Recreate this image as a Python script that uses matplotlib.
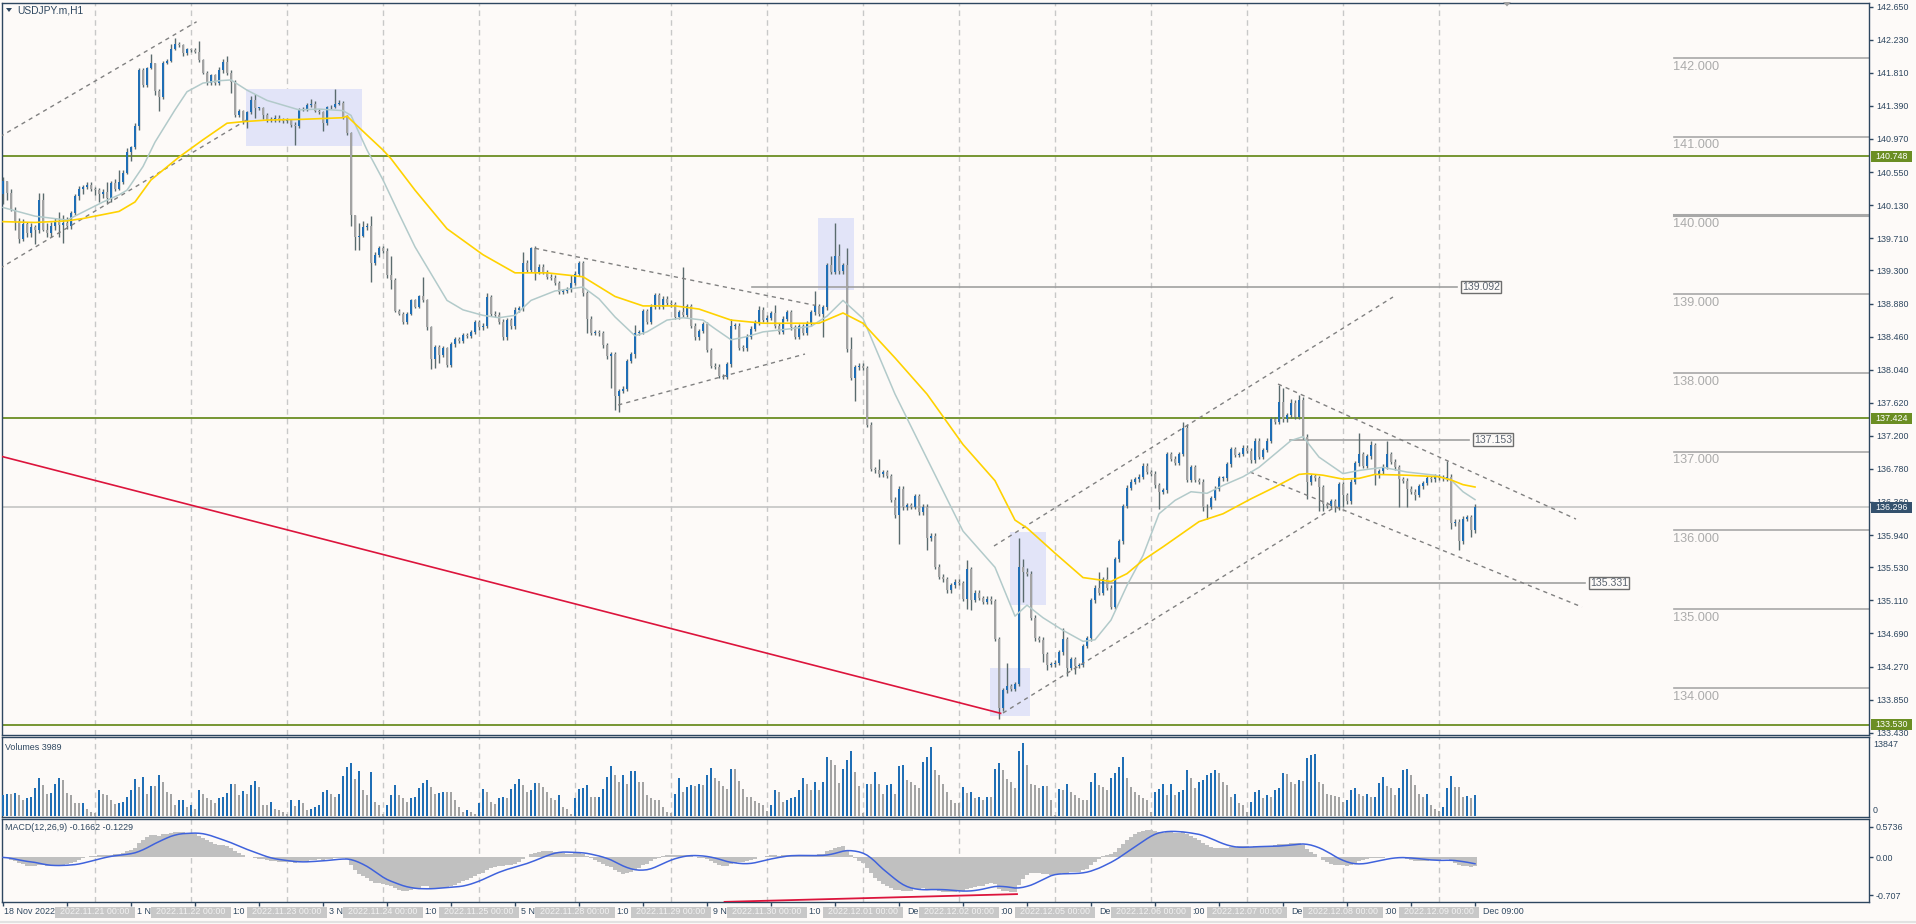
import numpy as np
import pandas as pd
import matplotlib
matplotlib.use("Agg")
import matplotlib.pyplot as plt
from matplotlib.patches import Rectangle, Polygon
from matplotlib.font_manager import FontProperties

plt.rcParams['font.family'] = ['Liberation Sans', 'DejaVu Sans']

# ---- USDJPY.m H1 bars, 18 Nov 2022 01:00 .. 9 Dec 2022 09:00 ----
days = ['2022-11-18', '2022-11-21', '2022-11-22', '2022-11-23', '2022-11-24',
        '2022-11-25', '2022-11-28', '2022-11-29', '2022-11-30', '2022-12-01',
        '2022-12-02', '2022-12-05', '2022-12-06', '2022-12-07', '2022-12-08',
        '2022-12-09']
first_hour, last_hour = 1, 9
first_open = 140.27

close = [
    # 18 Nov
    140.44, 140.29, 140.07, 139.93, 139.70, 139.89, 139.77, 139.85, 139.82, 140.20, 139.82, 139.77,
    139.86, 139.92, 139.88, 139.90, 139.86, 140.03, 140.24, 140.33, 140.36, 140.39, 140.34,
    # 21 Nov
    140.32, 140.27, 140.30, 140.22, 140.41, 140.34, 140.43, 140.54, 140.81, 140.87, 141.14, 141.85,
    141.65, 141.87, 141.94, 141.58, 141.50, 141.94, 141.96, 142.11, 142.18, 142.16, 142.06, 142.11,
    # 22 Nov
    142.10, 142.08, 141.97, 141.81, 141.68, 141.78, 141.68, 141.84, 141.95, 141.81, 141.70, 141.28,
    141.32, 141.19, 141.31, 141.46, 141.36, 141.36, 141.28, 141.21, 141.22, 141.24, 141.21, 141.20,
    # 23 Nov
    141.21, 141.15, 141.13, 141.34, 141.35, 141.40, 141.42, 141.33, 141.31, 141.17, 141.37, 141.38,
    141.42, 141.43, 141.25, 141.04, 140.00, 139.73, 139.74, 139.85, 139.87, 139.40, 139.50, 139.58,
    # 24 Nov
    139.55, 139.24, 139.18, 138.79, 138.75, 138.64, 138.75, 138.92, 138.84, 138.97, 138.92, 138.58,
    138.18, 138.33, 138.23, 138.31, 138.10, 138.36, 138.43, 138.41, 138.48, 138.47, 138.52, 138.64,
    # 25 Nov
    138.58, 138.60, 138.96, 138.75, 138.74, 138.65, 138.45, 138.67, 138.59, 138.80, 138.82, 139.40,
    139.31, 139.58, 139.28, 139.35, 139.28, 139.22, 139.21, 139.14, 139.03, 139.04, 139.06, 139.14,
    # 28 Nov
    139.26, 139.39, 139.01, 138.69, 138.51, 138.52, 138.50, 138.35, 138.21, 138.24, 137.70, 137.77,
    137.80, 138.15, 138.24, 138.51, 138.52, 138.78, 138.65, 138.84, 138.99, 138.84, 138.94, 138.89,
    # 29 Nov
    138.87, 138.71, 138.77, 138.74, 138.85, 138.60, 138.45, 138.53, 138.62, 138.29, 138.09, 138.08,
    137.96, 137.95, 138.11, 138.59, 138.60, 138.32, 138.31, 138.46, 138.56, 138.64, 138.80, 138.67,
    # 30 Nov
    138.70, 138.76, 138.60, 138.52, 138.69, 138.77, 138.58, 138.46, 138.59, 138.51, 138.63, 138.77,
    138.85, 138.75, 138.83, 139.37, 139.28, 139.49, 139.29, 139.37, 138.30, 137.94, 138.07, 138.09,
    # 1 Dec
    138.06, 137.34, 136.78, 136.76, 136.71, 136.74, 136.69, 136.39, 136.19, 136.53, 136.29, 136.32,
    136.30, 136.43, 136.23, 136.30, 135.90, 135.93, 135.54, 135.41, 135.38, 135.24, 135.30, 135.35,
    # 2 Dec
    135.33, 135.13, 135.51, 135.12, 135.21, 135.14, 135.09, 135.13, 135.10, 134.62, 133.74, 133.97,
    134.02, 133.99, 134.05, 135.53, 135.47, 135.45, 134.89, 134.63, 134.61, 134.43, 134.29, 134.30,
    # 5 Dec
    134.32, 134.45, 134.62, 134.25, 134.36, 134.28, 134.29, 134.53, 134.63, 135.11, 135.27, 135.21,
    135.38, 135.27, 135.03, 135.63, 135.86, 136.31, 136.54, 136.62, 136.65, 136.68, 136.82, 136.74,
    # 6 Dec
    136.72, 136.57, 136.49, 136.51, 136.97, 136.91, 136.86, 136.97, 137.30, 136.64, 136.80, 136.64,
    136.62, 136.29, 136.30, 136.41, 136.53, 136.66, 136.66, 136.84, 137.03, 136.96, 136.97, 137.05,
    # 7 Dec
    137.01, 136.89, 137.14, 136.93, 137.02, 137.14, 137.41, 137.38, 137.63, 137.41, 137.46, 137.62,
    137.44, 137.66, 137.19, 136.61, 136.69, 136.66, 136.55, 136.33, 136.31, 136.37, 136.29, 136.59,
    # 8 Dec
    136.45, 136.37, 136.62, 136.85, 136.97, 136.82, 136.94, 137.08, 136.70, 136.75, 136.81, 136.97,
    136.87, 136.80, 136.65, 136.63, 136.53, 136.49, 136.45, 136.56, 136.60, 136.66, 136.65, 136.69,
    # 9 Dec
    136.67, 136.66, 136.68, 136.09, 136.11, 135.86, 136.15, 136.17, 136.01, 136.30,
]

# wick lengths above / below the body, in 0.01 yen
wick_up = [
    5, 0, 5, 3, 4, 7, 3, 5, 3, 8, 8, 8, 5, 5, 12, 10, 8, 3, 3, 4, 2, 3, 3,
    2, 3, 3, 12, 3, 5, 14, 3, 5, 1, 3, 2, 2, 2, 11, 0, 2, 2, 2, 7, 7, 2, 2, 2,
    2, 2, 14, 2, 2, 2, 2, 5, 3, 7, 3, 2, 3, 2, 2, 6, 8, 2, 2, 2, 3, 3, 3, 3,
    3, 2, 3, 2, 2, 3, 6, 3, 2, 2, 2, 2, 18, 3, 2, 2, 2, 0, 16, 8, 3, 12, 3, 3,
    3, 3, 25, 2, 2, 2, 2, 2, 2, 2, 25, 2, 2, 2, 2, 3, 2, 3, 3, 3, 3, 3, 3, 3,
    3, 3, 5, 3, 3, 3, 3, 3, 3, 3, 3, 13, 3, 2, 3, 3, 3, 3, 3, 3, 3, 3, 3, 10,
    3, 3, 3, 3, 3, 3, 3, 3, 3, 3, 3, 3, 3, 3, 3, 10, 3, 3, 3, 3, 3, 3, 3, 3,
    3, 3, 3, 58, 3, 3, 3, 3, 3, 3, 3, 3, 3, 3, 3, 10, 3, 3, 3, 3, 3, 3, 5, 3,
    3, 3, 10, 3, 3, 3, 3, 3, 3, 3, 3, 3, 19, 3, 3, 3, 12, 41, 14, 3, 22, 16, 3, 3,
    3, 3, 3, 3, 15, 3, 3, 3, 3, 3, 3, 3, 3, 3, 3, 3, 3, 3, 3, 3, 3, 3, 3, 3,
    3, 3, 11, 3, 3, 3, 3, 3, 3, 3, 3, 3, 30, 3, 3, 37, 11, 5, 3, 3, 3, 3, 3, 3,
    3, 3, 14, 3, 3, 3, 3, 3, 3, 3, 3, 20, 3, 16, 3, 3, 3, 3, 3, 3, 3, 3, 3, 3,
    3, 3, 3, 3, 3, 3, 3, 3, 8, 5, 3, 3, 3, 3, 3, 3, 3, 3, 3, 3, 3, 3, 3, 3,
    3, 3, 3, 3, 3, 3, 3, 3, 22, 18, 3, 5, 3, 6, 3, 3, 3, 3, 3, 3, 3, 3, 3, 3,
    3, 3, 3, 3, 26, 3, 3, 6, 3, 3, 3, 17, 3, 3, 3, 3, 3, 3, 3, 3, 3, 3, 3, 3,
    3, 3, 20, 3, 3, 3, 3, 3, 3, 4,
]
wick_dn = [
    12, 9, 2, 12, 5, 3, 5, 5, 18, 5, 2, 4, 5, 5, 16, 23, 3, 3, 3, 4, 6, 3, 3,
    6, 10, 5, 8, 5, 3, 2, 3, 2, 12, 3, 6, 2, 2, 1, 5, 18, 2, 2, 1, 1, 2, 4, 2,
    2, 2, 2, 2, 2, 2, 2, 2, 3, 3, 15, 3, 3, 3, 8, 2, 12, 2, 5, 3, 3, 3, 3, 3,
    3, 3, 24, 2, 2, 2, 2, 2, 2, 10, 2, 2, 2, 2, 2, 2, 13, 17, 17, 2, 3, 24, 3, 3,
    3, 4, 12, 2, 2, 2, 2, 2, 2, 2, 2, 4, 13, 12, 10, 3, 3, 3, 3, 3, 3, 3, 3, 3,
    3, 3, 3, 3, 3, 3, 3, 3, 3, 3, 3, 3, 3, 3, 10, 3, 3, 3, 3, 3, 3, 3, 3, 3,
    3, 3, 3, 18, 3, 3, 3, 3, 3, 40, 17, 20, 3, 3, 3, 5, 3, 3, 3, 3, 3, 3, 3, 3,
    3, 3, 3, 3, 3, 3, 3, 3, 3, 3, 3, 3, 3, 3, 3, 3, 3, 3, 3, 3, 3, 3, 3, 3,
    3, 3, 3, 3, 3, 3, 3, 3, 3, 3, 3, 3, 3, 3, 29, 3, 3, 3, 3, 3, 3, 3, 30, 3,
    3, 3, 3, 3, 3, 3, 3, 3, 3, 36, 3, 3, 3, 3, 3, 3, 15, 3, 3, 3, 3, 3, 3, 3,
    3, 3, 13, 13, 3, 3, 3, 3, 3, 3, 14, 3, 3, 3, 3, 3, 38, 3, 3, 3, 3, 10, 7, 3,
    3, 3, 3, 10, 3, 10, 3, 3, 3, 3, 3, 3, 3, 3, 3, 3, 3, 3, 3, 3, 3, 3, 3, 3,
    3, 3, 22, 3, 3, 3, 3, 3, 3, 3, 3, 3, 3, 5, 15, 3, 3, 3, 3, 3, 3, 3, 3, 3,
    3, 3, 3, 3, 3, 3, 3, 3, 3, 3, 3, 3, 3, 3, 3, 21, 3, 3, 30, 8, 3, 3, 6, 3,
    15, 3, 3, 3, 3, 3, 3, 3, 13, 3, 3, 3, 3, 3, 35, 3, 23, 3, 7, 3, 3, 3, 3, 3,
    3, 3, 3, 7, 3, 11, 3, 3, 9, 5,
]

# tick volume, hundreds of ticks
vol_hundreds = [
    39, 42, 42, 44, 39, 30, 33, 35, 52, 71, 58, 42, 44, 61, 71, 67, 44, 39, 25, 24, 25, 14, 8, 6,
    49, 41, 39, 31, 22, 24, 27, 36, 49, 69, 55, 74, 42, 56, 56, 77, 63, 46, 42, 21, 30, 31, 17,
    21, 14, 49, 42, 33, 31, 24, 33, 36, 44, 61, 61, 39, 47, 41, 58, 66, 55, 21, 21, 27, 14, 12, 8,
    4, 30, 19, 31, 24, 11, 14, 17, 21, 46, 49, 42, 36, 42, 75, 92, 99, 69, 84, 49, 39, 83, 27, 21,
    4, 21, 39, 58, 39, 33, 26, 33, 36, 52, 62, 67, 55, 42, 44, 46, 46, 46, 30, 17, 8, 11, 8, 4,
    24, 50, 46, 27, 22, 33, 35, 33, 50, 61, 69, 58, 46, 49, 62, 62, 55, 46, 33, 31, 39, 17, 14, 4,
    33, 51, 52, 58, 35, 35, 36, 50, 74, 94, 77, 64, 77, 61, 84, 85, 64, 64, 39, 33, 30, 30, 17, 8,
    5, 42, 71, 46, 55, 58, 56, 61,
    58, 77, 91, 72, 66, 57, 51, 89, 89, 66, 50, 35, 35, 28, 25, 21,
    9, 21, 49, 46, 27, 31, 33, 36, 49, 71, 61, 49, 64, 49, 63, 110, 105, 95, 62, 89, 105, 122, 83, 56,
    6, 61, 61, 83, 61, 42, 58, 61, 41, 94, 95, 67, 64, 58, 53, 102, 111, 130, 86, 77, 61, 46, 31, 24,
    24, 55, 44, 46, 34, 35, 31, 36, 36, 89, 100, 86, 69, 64, 52, 122, 138, 95, 61, 58, 52, 56, 56, 30,
    2, 50, 49, 61, 46, 39, 33, 31, 30, 64, 80, 58, 55, 49, 71, 80, 92, 111, 71, 55, 46, 39, 33, 31,
    8, 46, 50, 61, 39, 61, 39, 46, 49, 87, 71, 52, 64, 67, 77, 80, 86, 80, 64, 58, 36, 42, 24, 21,
    8, 27, 46, 49, 33, 39, 35, 49, 52, 80, 79, 64, 61, 67, 66, 109, 114, 117, 64, 61, 42, 39, 37, 36,
    27, 30, 49, 53, 41, 37, 41, 35, 36, 62, 74, 56, 52, 39,
    52, 86, 89, 77, 58, 42, 36, 41, 21, 14, 10, 17, 52, 75, 54, 54, 36, 37, 34, 40,
]

# moving averages (bar index, price)
ma_slow_bar = [0, 8, 16, 20, 29, 33, 37, 44, 50, 56, 60, 66, 75, 85, 86, 91, 95, 97, 103, 111,
               120, 128, 136, 145, 153, 160, 168, 174, 182, 190, 204, 210, 215, 223, 231, 240,
               248, 253, 256, 263, 270, 277, 281, 285, 290, 299, 305, 312, 318, 324, 326, 330,
               335, 339, 343, 351, 359, 362, 365, 368]
ma_slow = [139.92, 139.91, 139.93, 139.96, 140.05, 140.17, 140.45, 140.74, 140.96, 141.17,
           141.19, 141.21, 141.22, 141.24, 141.26, 141.02, 140.83, 140.72, 140.32, 139.83,
           139.50, 139.27, 139.27, 139.22, 138.97, 138.85, 138.85, 138.81, 138.67, 138.63,
           138.63, 138.76, 138.63, 138.19, 137.73, 137.09, 136.63, 136.13, 136.03, 135.71,
           135.40, 135.35, 135.45, 135.62, 135.79, 136.11, 136.21, 136.40, 136.55, 136.71,
           136.72, 136.70, 136.65, 136.66, 136.71, 136.70, 136.68, 136.64, 136.58, 136.55]
ma_fast_bar = [0, 8, 16, 25, 29, 31, 35, 38, 43, 46, 50, 54, 57, 61, 66, 74, 79, 85, 87, 91,
               95, 99, 103, 105, 111, 115, 120, 124, 128, 132, 138, 145, 149, 153, 158, 161,
               166, 170, 175, 178, 182, 186, 190, 202, 206, 210, 215, 223, 231, 240, 248, 253,
               256, 260, 265, 270, 273, 277, 281, 285, 289, 293, 297, 301, 305, 310, 314, 318,
               322, 325, 329, 335, 339, 345, 351, 358, 362, 365, 368]
ma_fast = [140.10, 139.99, 139.94, 140.17, 140.26, 140.32, 140.62, 140.93, 141.34, 141.57,
           141.68, 141.71, 141.72, 141.59, 141.46, 141.34, 141.35, 141.33, 141.27, 140.83,
           140.45, 140.02, 139.60, 139.43, 138.92, 138.80, 138.73, 138.70, 138.73, 138.92,
           139.04, 139.09, 138.94, 138.71, 138.47, 138.52, 138.67, 138.70, 138.67, 138.56,
           138.42, 138.46, 138.52, 138.59, 138.72, 138.92, 138.69, 137.73, 136.91, 135.99,
           135.53, 134.91, 135.05, 134.89, 134.73, 134.59, 134.61, 134.86, 135.30, 135.68,
           136.21, 136.38, 136.49, 136.47, 136.57, 136.68, 136.80, 136.97, 137.14, 137.19,
           136.93, 136.72, 136.76, 136.80, 136.74, 136.70, 136.64, 136.49, 136.39]

# chart objects (bar index / price)
green_levels = [140.748, 137.424, 133.530]
last_price = 136.296
round_levels = [142.0, 141.0, 140.0, 139.0, 138.0, 137.0, 136.0, 135.0, 134.0]
price_ticks = [142.650, 142.230, 141.810, 141.390, 140.970, 140.550, 140.130, 139.710, 139.300,
               138.880, 138.460, 138.040, 137.620, 137.200, 136.780, 136.360, 135.940, 135.530,
               135.110, 134.690, 134.270, 133.850, 133.430]
trend_lines = [  # (bar0, price0, bar1, price1)
    (-0.75, 140.999, 48.4, 142.459),
    (-0.75, 139.328, 60.9, 141.211),
    (133.0, 139.582, 203.0, 138.857),
    (153.8, 137.592, 200.5, 138.239),
    (247.75, 135.801, 347.5, 138.963),
    (250.0, 133.680, 333.0, 136.296),
    (318.75, 137.858, 393.25, 136.143),
    (311.75, 136.740, 394.75, 135.026),
]
red_line = (-0.75, 136.944, 249.4, 133.676)
boxes = [  # (bar0, bar1, price_low, price_high)
    (60.75, 89.75, 140.881, 141.605),
    (203.75, 212.75, 139.052, 139.967),
    (251.75, 260.75, 135.046, 135.982),
    (246.75, 256.75, 133.640, 134.249),
]
price_marks = [  # (price, bar0, bar1)
    (139.092, 187.25, 363.5),
    (137.153, 321.75, 366.5),
    (135.331, 274.25, 395.5),
]
macd_red = (180.4, -0.83, 253.5, -0.685)
volume_label = 'Volumes 3989'
macd_label = 'MACD(12,26,9) -0.1662 -0.1229'

# ---- derived ----
close = np.array(close)
n = len(close)
opn = np.r_[first_open, close[:-1]]
hi = np.maximum(opn, close) + np.array(wick_up[:n]) / 100
lo = np.minimum(opn, close) - np.array(wick_dn[:n]) / 100
vol = np.array(vol_hundreds[:n]) * 100
xb = np.arange(n)

bar_times = []
for k, d in enumerate(days):
    h0 = first_hour if k == 0 else 0
    h1 = last_hour if k == len(days) - 1 else 23
    bar_times += [pd.Timestamp(d) + pd.Timedelta(hours=h) for h in range(h0, h1 + 1)]
day_starts = [i for i, t in enumerate(bar_times) if t.hour == 0]

s = pd.Series(close)
macd = (s.ewm(span=12, adjust=False).mean() - s.ewm(span=26, adjust=False).mean()).values
signal = pd.Series(macd).rolling(9, min_periods=1).mean().values

# ---- style ----
W, H = 1916, 924
BG = '#fdfaf8'
FRAME = '#2e4760'
BLUE = '#1f6eb5'
GREY = '#a3a3a3'
WICK = '#5a6b6d'
GREEN = '#6b8e23'
FS = 6.4

fig = plt.figure(figsize=(W / 100, H / 100), dpi=100, facecolor=BG)
X0, X1 = 1.5, 1869.0


def rect(y0, y1):
    return [X0 / W, 1 - y1 / H, (X1 - X0) / W, (y1 - y0) / H]


def fx(x):
    return x / W


def fy(y):
    return 1 - y / H


def py(p):  # price -> pixel row
    return 6.7 + (142.65 - p) * 78.74


ax = fig.add_axes(rect(2.7, 735.0))
axv = fig.add_axes(rect(737.3, 817.3))
axm = fig.add_axes(rect(819.3, 902.3))

xlim = ((X0 - 3) / 4, (X1 - 3) / 4)
for a in (ax, axv, axm):
    a.set_facecolor(BG)
    a.set_xlim(*xlim)
    for sp in a.spines.values():
        sp.set_color(FRAME)
        sp.set_linewidth(1)
    for d in day_starts:
        a.axvline(d, color='#c8c8c8', lw=1, ls=(0, (4, 3)), zorder=0.5)

ax.set_ylim(142.65 - (735.0 - 6.7) / 78.74, 142.65 + 4.0 / 78.74)

# boxes
for b0, b1, p0, p1 in boxes:
    ax.add_patch(Rectangle((b0, p0), b1 - b0, p1 - p0, facecolor='#e2e4f8',
                           edgecolor='none', zorder=1))

# horizontal levels
for p in green_levels:
    ax.axhline(p, color=GREEN, lw=1.3, zorder=2)
ax.axhline(last_price, color='#c4c4c4', lw=1.2, zorder=2)
lvl_x0 = (1674 - 3) / 4
for p in round_levels:
    ax.plot([lvl_x0, xlim[1]], [p, p], color='#a8a8a8', lw=2.2 if p == 140.0 else 1.2, zorder=2)
    ax.text(lvl_x0 - 0.2, p - 0.035, f'{p:.3f}', color='#ababab', fontsize=9.2,
            ha='left', va='top', zorder=2)

# price marks with boxed labels
for p, b0, b1 in price_marks:
    ax.plot([b0, b1], [p, p], color='#a0a0a0', lw=1.2, zorder=2)
    ax.text(b1 + 1.2, p, f'{p:.3f}', color='#5b6470', fontsize=7.6, ha='left', va='center',
            zorder=6, bbox=dict(boxstyle='square,pad=0.12', fc=BG, ec='#6e6e6e', lw=1))

# red line and dashed channels
ax.plot([red_line[0], red_line[2]], [red_line[1], red_line[3]], color='#dc143c', lw=1.2, zorder=5)
for b0, p0, b1, p1 in trend_lines:
    ax.plot([b0, b1], [p0, p1], color='#808080', lw=1, ls=(0, (3, 3)), zorder=5)

# candles
bull = close >= opn
ax.vlines(xb, lo, hi, color=WICK, lw=1, zorder=3)
body = np.maximum(np.abs(close - opn), 0.012)
ax.bar(xb, body, bottom=np.minimum(opn, close), width=0.72,
       color=np.where(bull, BLUE, GREY), linewidth=0, zorder=4)

# moving averages
ax.plot(ma_fast_bar, ma_fast, color='#b2caca', lw=1.1, zorder=5)
ax.plot(ma_slow_bar, ma_slow, color='#ffd200', lw=1.2, zorder=5)

# price axis
ax.yaxis.tick_right()
ax.set_yticks(price_ticks)
ax.set_yticklabels([f'{t:.3f}' for t in price_ticks])
ax.tick_params(axis='y', length=3, width=1, colors=FRAME, labelsize=FS, pad=2)
ax.set_xticks([])


def axis_box(p, fc, txt):
    y = py(p)
    fig.patches.append(Rectangle((fx(1871), fy(y + 5.5)), 41 / W, 11 / H, transform=fig.transFigure,
                                 facecolor=fc, edgecolor='none', zorder=10))
    fig.text(fx(1891.5), fy(y), txt, color='white', fontsize=FS, ha='center', va='center', zorder=11)


for p in green_levels:
    axis_box(p, GREEN, f'{p:.3f}')
axis_box(last_price, '#34516d', f'{last_price:.3f}')

# title
fig.patches.append(Polygon([(fx(6), fy(8)), (fx(12), fy(8)), (fx(9), fy(12))], closed=True,
                           transform=fig.transFigure, facecolor=FRAME, edgecolor='none'))
fig.text(fx(17), fy(10.5), 'USDJPY.m,H1', color=FRAME, fontsize=7.4, ha='left', va='center')
fig.patches.append(Polygon([(fx(1503), fy(2)), (fx(1511), fy(2)), (fx(1507), fy(6.5))], closed=True,
                           transform=fig.transFigure, facecolor='#a0a0a0', edgecolor='none'))

# volumes
vcol = [BLUE if i > 0 and vol[i] > vol[i - 1] else GREY for i in range(n)]
vcol[0] = BLUE
axv.bar(xb, vol, width=0.72, color=vcol, linewidth=0, zorder=3)
axv.set_ylim(-244, 14786)
axv.set_xticks([])
axv.set_yticks([])
fig.text(fx(5), fy(747.5), volume_label, color=FRAME, fontsize=FS, ha='left', va='center')
fig.text(fx(1873), fy(744.7), '13847', color=FRAME, fontsize=FS, ha='left', va='center')
fig.text(fx(1873), fy(810.7), '0', color=FRAME, fontsize=FS, ha='left', va='center')

# MACD
axm.bar(xb, macd, width=1.0, color='#c0c0c0', linewidth=0, zorder=2)
axm.plot(xb, signal, color='#3f62dc', lw=1.1, zorder=3)
axm.plot([macd_red[0], macd_red[2]], [macd_red[1], macd_red[3]], color='#dc143c', lw=1.3, zorder=4)
axm.set_ylim(-0.838, 0.712)
axm.yaxis.tick_right()
axm.set_yticks([0.5736, 0.0, -0.707])
axm.set_yticklabels(['0.5736', '0.00', '-0.707'])
axm.tick_params(axis='y', length=3, width=1, colors=FRAME, labelsize=FS, pad=2)
fig.text(fx(5), fy(828), macd_label, color=FRAME, fontsize=FS, ha='left', va='center')

# time axis: period-separator date boxes hide parts of the regular time labels,
# so only the uncovered fragments of each label are written
lab_bars = list(range(0, n, 16))
axm.set_xticks(lab_bars)
axm.set_xticklabels([])
axm.tick_params(axis='x', length=3, width=1, colors=FRAME)

renderer = fig.canvas.get_renderer()
fp = FontProperties(family=['Liberation Sans', 'DejaVu Sans'], size=FS)
ref_w = renderer.get_text_width_height_descent('M', fp, ismath=False)[0]


def tw(txt):
    return renderer.get_text_width_height_descent(txt + 'M', fp, ismath=False)[0] - ref_w


spans = [(3 + 4 * d - 40, 3 + 4 * d + 40) for d in day_starts]
for b in lab_bars:
    t = bar_times[b]
    txt = t.strftime('%d %b %Y') if b == 0 else f"{t.day} {t.strftime('%b %H:%M')}"
    x0 = 3 + 4 * b + 1
    vis = []
    for k in range(len(txt)):
        cen = x0 + 0.5 * (tw(txt[:k]) + tw(txt[:k + 1]))
        vis.append(not any(l <= cen <= r for l, r in spans))
    k = 0
    while k < len(txt):
        if vis[k]:
            j = k
            while j < len(txt) and vis[j]:
                j += 1
            frag = txt[k:j]
            if frag.strip():
                lead = len(frag) - len(frag.lstrip())
                fig.text(fx(x0 + tw(txt[:k + lead])), fy(912), frag.strip(), color=FRAME,
                         fontsize=FS, ha='left', va='center')
            k = j
        else:
            k += 1

for d in day_starts:
    xc = 3 + 4 * d
    fig.patches.append(Rectangle((fx(xc - 40), fy(917.5)), 80 / W, 11 / H, transform=fig.transFigure,
                                 facecolor='#c8c8c8', edgecolor='none', zorder=10))
    fig.text(fx(xc), fy(912), bar_times[d].strftime('%Y.%m.%d %H:%M'), color='#f2f2f2',
             fontsize=FS, ha='center', va='center', zorder=11)

fig.add_artist(plt.Line2D([0, 1], [fy(921.5), fy(921.5)], transform=fig.transFigure,
                          color='#e2e2e2', lw=1.5))

fig.savefig('out.png', dpi=100, facecolor=BG)
